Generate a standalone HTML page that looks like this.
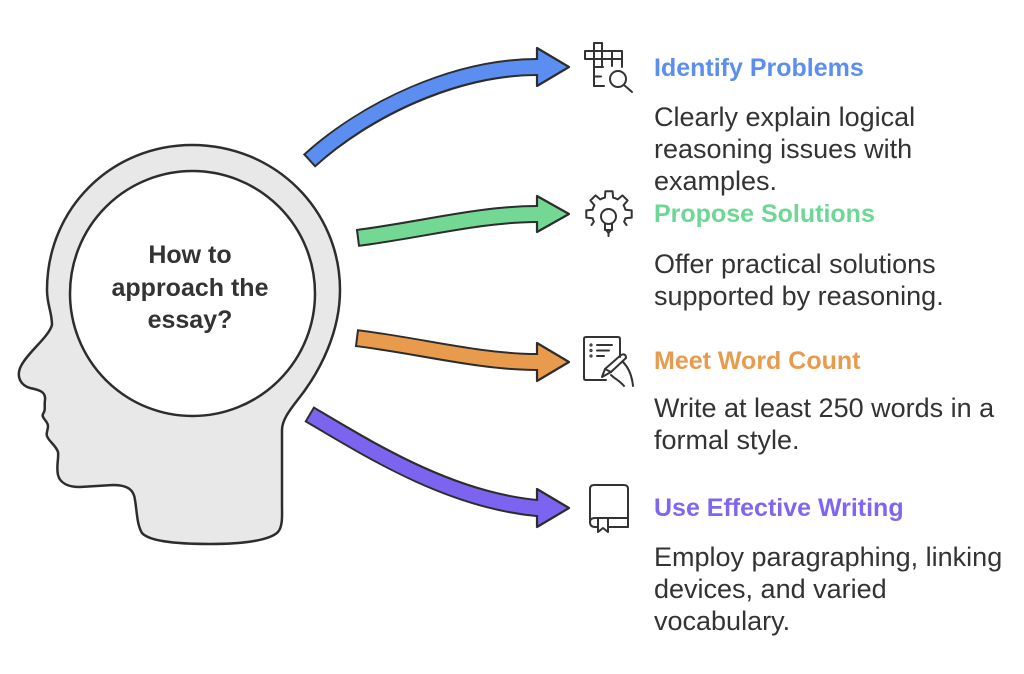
<!DOCTYPE html>
<html>
<head>
<meta charset="utf-8">
<style>
html,body{margin:0;padding:0;background:#fff;}
svg{display:block;}
.t{font-family:"Liberation Sans",Arial,sans-serif;font-weight:bold;font-size:25px;}
.b{font-family:"Liberation Sans",Arial,sans-serif;font-size:27px;fill:#333;}
.ic{fill:none;stroke:#333;stroke-width:2;stroke-linecap:round;stroke-linejoin:round;}
</style>
</head>
<body>
<svg width="1024" height="674" viewBox="0 0 1024 674" xmlns="http://www.w3.org/2000/svg">
  <!-- Head -->
  <path d="M 192,145
    C 112,145 47,208 47,290
    C 47,305 52,312 52,325
    C 48,338 28,352 21,366
    C 16,376 20,385 30,388
    C 40,390 46,392 45,400
    C 44,406 46,410 43,414
    C 41,418 48,421 48,426
    C 48,431 45,434 48,438
    C 50,442 56,446 58,452
    C 59,458 56,466 58,475
    C 60,483 68,487 80,487
    L 113,485
    C 128,485 134,490 135,500
    C 137,512 137,525 142,533
    C 150,542 180,544 210,544
    C 245,544 270,540 278,532
    C 283,526 282,515 282,505
    L 282,430
    C 282,420 290,410 296,402
    C 322,370 340,330 340,290
    C 340,210 275,145 192,145 Z"
    fill="#e8e8e8" stroke="#2d2d2d" stroke-width="2.5" stroke-linejoin="round"/>
  <circle cx="192.5" cy="293.5" r="122.5" fill="#fff" stroke="#2d2d2d" stroke-width="2.5"/>
  <text class="t" fill="#333" text-anchor="middle" x="190" y="263">How to</text>
  <text class="t" fill="#333" text-anchor="middle" x="190" y="296">approach the</text>
  <text class="t" fill="#333" text-anchor="middle" x="190" y="328">essay?</text>

  <!-- Blue arrow -->
  <path d="M 309,161 C 365,110 455,67 537,67" fill="none" stroke="#2d2d2d" stroke-width="18"/>
  <polygon points="537,48 569,67 537,86" fill="#5b8ef0" stroke="#2d2d2d" stroke-width="2.2" stroke-linejoin="round"/>
  <path d="M 310.5,159.7 C 366,109 455,67 537,67 L 542,67" fill="none" stroke="#5b8ef0" stroke-width="14"/>

  <!-- Green arrow -->
  <path d="M 357,238 C 420,230 480,214 537,214" fill="none" stroke="#2d2d2d" stroke-width="18"/>
  <polygon points="537,196 569,214 537,232" fill="#72d894" stroke="#2d2d2d" stroke-width="2.2" stroke-linejoin="round"/>
  <path d="M 359,237.7 C 421,230 480,214 537,214 L 542,214" fill="none" stroke="#72d894" stroke-width="14"/>

  <!-- Orange arrow -->
  <path d="M 356,338 C 420,346 480,362 537,362" fill="none" stroke="#2d2d2d" stroke-width="18"/>
  <polygon points="537,343 569,362 537,381" fill="#e99b4d" stroke="#2d2d2d" stroke-width="2.2" stroke-linejoin="round"/>
  <path d="M 358,338.3 C 421,346 480,362 537,362 L 542,362" fill="none" stroke="#e99b4d" stroke-width="14"/>

  <!-- Purple arrow -->
  <path d="M 309,414 C 370,450 450,500 537,508" fill="none" stroke="#2d2d2d" stroke-width="18"/>
  <polygon points="537,489 569,508 537,527" fill="#7d64f0" stroke="#2d2d2d" stroke-width="2.2" stroke-linejoin="round"/>
  <path d="M 310.7,415 C 371,451 450,500 537,508 L 542,508.3" fill="none" stroke="#7d64f0" stroke-width="14"/>

  <!-- Icon 1: grid + magnifier -->
  <g class="ic">
    <rect x="594" y="43" width="8" height="8"/>
    <rect x="585" y="51" width="37" height="8"/>
    <line x1="594" y1="51" x2="594" y2="59"/>
    <line x1="602" y1="51" x2="602" y2="59"/>
    <line x1="612" y1="51" x2="612" y2="59"/>
    <line x1="594" y1="59" x2="594" y2="86"/>
    <line x1="602" y1="59" x2="602" y2="67"/>
    <line x1="594" y1="67" x2="603" y2="67"/>
    <line x1="594" y1="76.5" x2="601" y2="76.5"/>
    <line x1="594" y1="86" x2="604" y2="86"/>
    <line x1="612" y1="59" x2="612" y2="66"/>
    <line x1="622" y1="59" x2="622" y2="67"/>
    <circle cx="618" cy="79" r="8"/>
    <line x1="624" y1="85" x2="632" y2="92"/>
  </g>

  <!-- Icon 2: gear + bulb -->
  <g class="ic">
    <path d="M 591.5,225 L 593.9,221.7 A 17 17 0 0 1 592.6,218.2 L 586.3,217.6 L 586.3,210.4 L 592.6,209.8 A 17 17 0 0 1 594.4,205.2 L 590.4,200.5 L 595.5,195.4 L 600.2,199.4 A 17 17 0 0 1 604.9,197.6 L 605.4,191.3 L 612.6,191.3 L 613.1,197.6 A 17 17 0 0 1 617.8,199.4 L 622.5,195.4 L 627.6,200.5 L 623.6,205.2 A 17 17 0 0 1 625.4,209.8 L 631.7,210.4 L 631.7,217.6 L 625.4,218.2 A 17 17 0 0 1 624.1,221.7 L 626.5,225"/>
    <circle cx="608.5" cy="216.5" r="7.5"/>
    <path d="M 605,224 L 605,230 L 612,230 L 612,224"/>
    <path d="M 606,230 L 608.5,233 L 611,230"/>
    <line x1="608.5" y1="233" x2="608.5" y2="236"/>
  </g>

  <!-- Icon 3: document + pen hand -->
  <g class="ic">
    <path d="M 620,357 L 620,339 Q 620,337 618,337 L 586,337 Q 584,337 584,339 L 584,378 Q 584,380 586,380 L 606,380"/>
    <circle cx="591" cy="345" r="0.6"/>
    <circle cx="591" cy="350.5" r="0.6"/>
    <circle cx="591" cy="356" r="0.6"/>
    <line x1="597" y1="345" x2="612" y2="345"/>
    <line x1="597" y1="350.5" x2="609" y2="350.5"/>
    <line x1="597" y1="356" x2="604" y2="356"/>
    <path d="M 602,377 L 605,369 L 621,355 Q 626,353 626,358 L 611,372 Z"/>
    <line x1="605" y1="369" x2="611" y2="372"/>
    <path d="M 623,362 C 629,368 632,376 633,386"/>
    <path d="M 611,375 C 615,379 620,381 624,386"/>
  </g>

  <!-- Icon 4: book -->
  <g class="ic">
    <path d="M 590,522 L 590,489 Q 590,485 594,485 L 624,485 Q 628,485 628,489 L 628,527"/>
    <path d="M 628,518 L 595,518 Q 590,518 590,522 Q 590,527 595,527 L 598,527"/>
    <line x1="608" y1="527" x2="628" y2="527"/>
    <path d="M 598,518 L 598,532 L 603,528 L 608,532 L 608,518"/>
  </g>

  <!-- Titles -->
  <text class="t" fill="#5b8ef0" x="654" y="76">Identify Problems</text>
  <text class="t" fill="#6dd795" x="654" y="222">Propose Solutions</text>
  <text class="t" fill="#e99b4d" x="654" y="369">Meet Word Count</text>
  <text class="t" fill="#7f66f2" x="654" y="516">Use Effective Writing</text>

  <!-- Body text -->
  <text class="b" x="654" y="126">Clearly explain logical</text>
  <text class="b" x="654" y="158">reasoning issues with</text>
  <text class="b" x="654" y="190">examples.</text>

  <text class="b" x="654" y="273">Offer practical solutions</text>
  <text class="b" x="654" y="305">supported by reasoning.</text>

  <text class="b" x="654" y="417">Write at least 250 words in a</text>
  <text class="b" x="654" y="449">formal style.</text>

  <text class="b" x="654" y="566">Employ paragraphing, linking</text>
  <text class="b" x="654" y="598">devices, and varied</text>
  <text class="b" x="654" y="630">vocabulary.</text>
</svg>
</body>
</html>
